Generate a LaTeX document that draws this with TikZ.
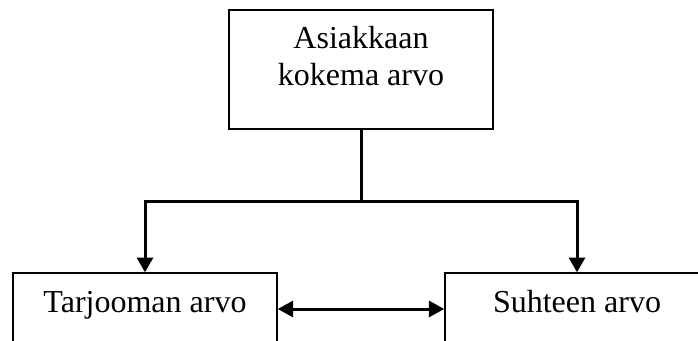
\documentclass[tikz,border=0pt]{standalone}
\usepackage{fontspec}
\setmainfont{Liberation Serif}
\usetikzlibrary{arrows.meta}

\tikzset{
  laatikko/.style={draw, line width=1.1pt, minimum width=198pt, inner xsep=0pt, inner ysep=0pt,
    font=\fontsize{24}{27.75}\selectfont},
  yhteys/.style={line width=2.25pt},
  nuoli/.style={yhteys, -{Triangle[length=11pt,width=12pt]}},
  kaksinuoli/.style={yhteys, {Triangle[length=11.5pt,width=12pt]}-{Triangle[length=11.5pt,width=12pt]}}
}

\begin{document}
\begin{tikzpicture}[x=0.75pt,y=-0.75pt]
    \useasboundingbox (0,0) rectangle (698,340);
    \node[laatikko, align=center, text height=56.25pt, text depth=33pt] (arvo) at (361,69.5) {Asiakkaan\\kokema arvo};
    \node[laatikko, text height=29.25pt, text depth=24.75pt] (tarjooma) at (145,309) {Tarjooman arvo};
    \node[laatikko, text height=29.25pt, text depth=24.75pt] (suhde) at (577,309) {Suhteen arvo};
    \coordinate (haara) at (361,201);
    \draw[yhteys] (arvo.south) -- (haara);
    \draw[nuoli] (haara) -| (tarjooma.north);
    \draw[nuoli] (haara) -| (suhde.north);
    \draw[kaksinuoli] (tarjooma.east) -- (suhde.west);
\end{tikzpicture}
\end{document}
